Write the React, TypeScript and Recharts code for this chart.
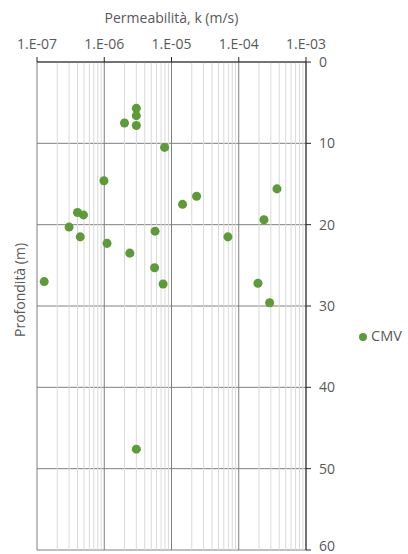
import React from 'react';
import { ScatterChart, Scatter, XAxis, YAxis, CartesianGrid, ReferenceLine, Legend, Label } from 'recharts';

const permeability = [
  3.0e-6, 3.0e-6, 2.0e-6, 3.0e-6, 7.9e-6, 9.9e-7, 4.0e-7, 4.9e-7, 3.0e-7, 4.4e-7, 1.1e-6, 2.4e-6,
  5.7e-6, 5.6e-6, 7.5e-6, 1.28e-7, 1.46e-5, 2.36e-5, 3.7e-4, 2.37e-4, 6.9e-5, 1.93e-4, 2.88e-4, 3.0e-6,
];
const depth = [
  5.7, 6.6, 7.5, 7.8, 10.5, 14.6, 18.5, 18.8, 20.3, 21.5, 22.3, 23.5,
  20.8, 25.3, 27.3, 27.0, 17.5, 16.5, 15.6, 19.4, 21.5, 27.2, 29.6, 47.6,
];

const xTicks = [1e-7, 1e-6, 1e-5, 1e-4, 1e-3];
const xTickLabels = ['1.E-07', '1.E-06', '1.E-05', '1.E-04', '1.E-03'];
const yTicks = [0, 10, 20, 30, 40, 50, 60];
const minorMultipliers = [2, 3, 4, 5, 6, 7, 8, 9];

const data = permeability.map((k, i) => ({ k, depth: depth[i] }));
const minorLines = xTicks.slice(0, -1).flatMap((d) => minorMultipliers.map((m) => d * m));

const FONT = '"Open Sans", sans-serif';
const TEXT = '#595959';

const App = () => {
  return (
    <div style={{ position: 'absolute', left: 0, top: 0, fontFamily: FONT }}>
      <ScatterChart width={408} height={554} margin={{ top: 8, right: 72, bottom: 4, left: 0 }}>
        <XAxis
          type="number"
          dataKey="k"
          orientation="top"
          scale="log"
          domain={[1e-7, 1e-3]}
          ticks={xTicks}
          allowDataOverflow
          height={54}
          tickFormatter={(v, i) => xTickLabels[i]}
          tick={{ fill: TEXT, fontSize: 14, fontFamily: FONT }}
          tickSize={5}
          tickMargin={8}
          stroke="#262626"
        >
          <Label value="Permeabilità, k (m/s)" position="insideTop" offset={5} fill={TEXT} fontSize={14} fontFamily={FONT} />
        </XAxis>
        <YAxis
          type="number"
          dataKey="depth"
          orientation="right"
          reversed
          domain={[0, 60]}
          ticks={yTicks}
          width={30}
          tick={{ fill: TEXT, fontSize: 14, fontFamily: FONT }}
          tickSize={5}
          tickMargin={8}
          stroke="#262626"
        />
        <YAxis
          yAxisId="l"
          type="number"
          orientation="left"
          reversed
          domain={[0, 60]}
          width={37}
          tick={false}
          tickLine={false}
          axisLine={false}
        >
          <Label
            content={(props: any) => {
              const vb = props.viewBox || {};
              const cx = vb.x + vb.width / 2 + 1;
              const cy = vb.y + vb.height / 2 - 16;
              return (
                <text x={cx} y={cy} transform={`rotate(-90, ${cx}, ${cy})`} textAnchor="middle" dominantBaseline="central" fill={TEXT} fontSize={14} fontFamily={FONT}>
                  Profondità (m)
                </text>
              );
            }}
          />
        </YAxis>
        {minorLines.map((v) => (
          <ReferenceLine key={`m${v}`} x={v} stroke="#d9d9d9" strokeWidth={1} />
        ))}
        <CartesianGrid vertical={false} stroke="#7f7f7f" strokeWidth={1} />
        {xTicks.map((v) => (
          <ReferenceLine key={`M${v}`} x={v} stroke="#7f7f7f" strokeWidth={1} />
        ))}
        <Legend
          layout="horizontal"
          align="center"
          verticalAlign="middle"
          iconType="circle"
          iconSize={8}
          wrapperStyle={{ left: 359, top: 326, width: 'auto', fontFamily: FONT, fontSize: 14.5 }}
          formatter={(value) => <span style={{ color: TEXT }}>{value}</span>}
        />
        <Scatter name="CMV" data={data} fill="#5c9b38" isAnimationActive={false} />
      </ScatterChart>
    </div>
  );
};

export default App;
